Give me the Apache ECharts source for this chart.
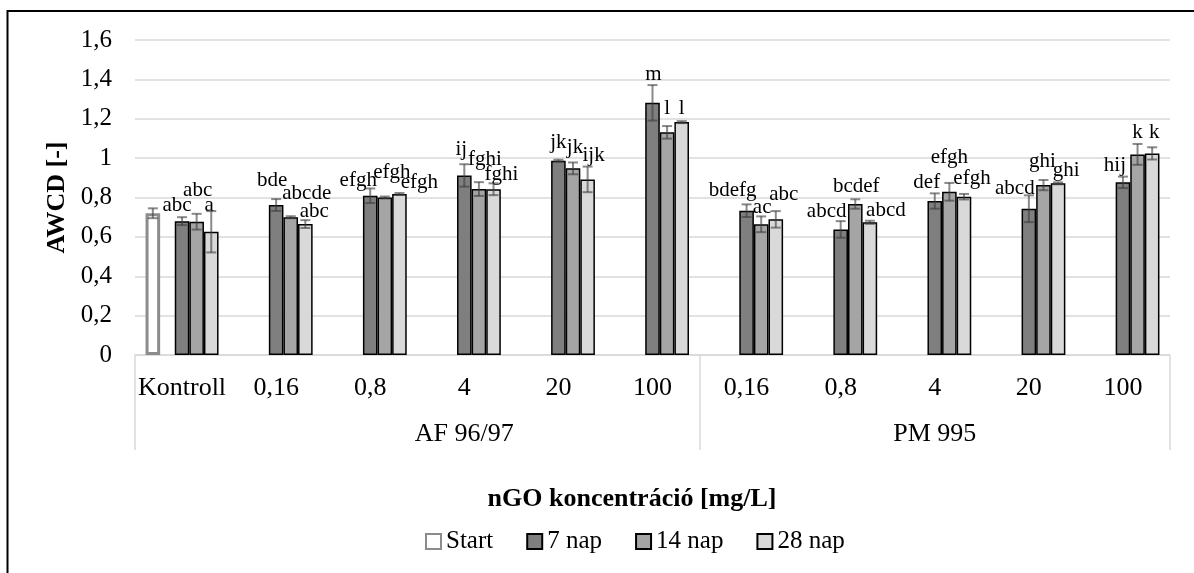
<!DOCTYPE html>
<html>
<head>
<meta charset="utf-8">
<script src="https://cdn.jsdelivr.net/npm/echarts@6/dist/echarts.min.js"></script>
<style>html,body{margin:0;padding:0;background:#fff}#c{width:1194px;height:573px}</style>
</head>
<body>
<div id="c"></div>
<script>
// ---- data ----
const categories = ['Kontroll', '0,16', '0,8', '4', '20', '100', '0,16', '0,8', '4', '20', '100'];
const groupNames = ['AF 96/97', 'PM 995'];
const groupStart = [1, 6];
const groupEnd = [6, 11];
const seriesNames = ['Start', '7 nap', '14 nap', '28 nap'];
const yTicks = [0, 0.2, 0.4, 0.6, 0.8, 1, 1.2, 1.4, 1.6];

const startVals = [0.72, null, null, null, null, null, null, null, null, null, null];
const startErr  = [0.025, null, null, null, null, null, null, null, null, null, null];

const vals7  = [0.680, 0.762, 0.809, 0.912, 0.987, 1.281, 0.733, 0.638, 0.782, 0.743, 0.877];
const err7   = [0.020, 0.030, 0.037, 0.057, 0.005, 0.090, 0.032, 0.042, 0.039, 0.068, 0.029];
const lett7  = ['abc', 'bde', 'efgh', 'ij', 'jk', 'm', 'bdefg', 'abcd', 'def', 'abcd', 'hij'];

const vals14 = [0.677, 0.700, 0.800, 0.843, 0.948, 1.131, 0.664, 0.767, 0.829, 0.863, 1.019];
const err14  = [0.040, 0.005, 0.005, 0.035, 0.030, 0.032, 0.040, 0.024, 0.045, 0.026, 0.053];
const lett14 = ['abc', 'abcde', 'efgh', 'fghi', 'jk', 'l', 'ac', 'bcdef', 'efgh', 'ghi', 'k'];

const vals28 = [0.626, 0.665, 0.818, 0.842, 0.892, 1.183, 0.689, 0.674, 0.804, 0.872, 1.024];
const err28  = [0.105, 0.020, 0.005, 0.030, 0.065, 0.005, 0.042, 0.008, 0.014, 0.005, 0.031];
const lett28 = ['a', 'abc', 'efgh', 'fghi', 'ijk', 'l', 'abc', 'abcd', 'efgh', 'ghi', 'k'];

// ---- label placement (style, pixels relative to bar top) ----
const off7  = [[-5,-16],[-4,-24],[-12,-15],[-3,-26],[0,-18],[1,-28],[-14,-20],[-14,-18],[-8,-19],[-14,-20],[-8,-17]];
const off14 = [[1,-31],[16,-24],[7,-25],[6,-30],[2,-21],[0,-24],[1,-17],[1,-18],[0,-34],[-1,-24],[0,-22]];
const off28 = [[-2,-26],[9,-13],[20,-11],[8,-15],[6,-24],[0,-14],[8,-25],[16,-12],[8,-18],[8,-13],[2,-21]];

// ---- styles ----
const FONT = "'Liberation Serif', 'Times New Roman', serif";
const BAR_W = 14.6;
const fills = ['#ffffff', '#7f7f7f', '#a5a5a5', '#d9d9d9'];

function items(vals, letters, offs) {
  return vals.map((v, i) => v == null ? null : {
    value: v,
    label: { show: !!letters[i], formatter: letters[i], offset: offs[i] }
  });
}

const labelStyle = {
  show: true, position: 'top', distance: 0, verticalAlign: 'middle',
  fontFamily: FONT, fontSize: 21, color: '#000'
};

function barSeries(name, data, fill, border, bw, z) {
  return {
    name: name, type: 'bar', data: data, barWidth: BAR_W, barGap: '0%',
    itemStyle: { color: fill, borderColor: border, borderWidth: bw },
    label: labelStyle, z: z, animation: false
  };
}

// error bar data: [categoryIndex, value, err, slot]
function errData(vals, errs, slot) {
  const out = [];
  vals.forEach((v, i) => { if (v != null && errs[i] != null) out.push([i, v, errs[i], slot]); });
  return out;
}
const errAll = [].concat(errData(startVals, startErr, 0), errData(vals7, err7, 2),
  errData(vals14, err14, 3), errData(vals28, err28, 4));

const chart = echarts.init(document.getElementById('c'), null, { renderer: 'canvas' });
chart.setOption({
  backgroundColor: '#fff',
  animation: false,
  textStyle: { fontFamily: FONT },
  grid: { left: 135, right: 24, top: 40, bottom: 218, containLabel: false },
  legend: {
    data: seriesNames, left: 420, top: 524, itemWidth: 15, itemHeight: 15, itemGap: 33,
    icon: 'rect', textStyle: { fontFamily: FONT, fontSize: 25, color: '#000' }
  },
  xAxis: [
    {
      type: 'category', data: categories,
      axisTick: { show: false },
      axisLine: { lineStyle: { color: '#d9d9d9', width: 1.5 } },
      axisLabel: { interval: 0, fontFamily: FONT, fontSize: 26, color: '#000', margin: 20 }
    },
    {
      type: 'value', min: 0, max: categories.length, position: 'bottom',
      axisLine: { show: false }, splitLine: { show: false },
      axisTick: {
        show: true, customValues: [0].concat(groupEnd), length: 95,
        lineStyle: { color: '#d9d9d9', width: 1.5 }
      },
      axisLabel: {
        customValues: groupStart.map((s, k) => (s + groupEnd[k]) / 2),
        formatter: function (v) {
          for (let k = 0; k < groupNames.length; k++) {
            if (Math.abs(v - (groupStart[k] + groupEnd[k]) / 2) < 1e-6) return groupNames[k];
          }
          return '';
        },
        fontFamily: FONT, fontSize: 26, color: '#000', margin: 66
      }
    }
  ],
  yAxis: {
    type: 'value', min: yTicks[0], max: yTicks[yTicks.length - 1], interval: 0.2,
    name: 'AWCD [-]', nameLocation: 'middle', nameRotate: 90, nameGap: 60,
    nameTextStyle: { fontFamily: FONT, fontSize: 26, fontWeight: 'bold', color: '#000' },
    axisLine: { show: false }, axisTick: { show: false },
    axisLabel: {
      fontFamily: FONT, fontSize: 25, color: '#000', margin: 23,
      formatter: v => String(+v.toFixed(1)).replace('.', ',')
    },
    splitLine: { lineStyle: { color: '#d9d9d9', width: 1.5 } }
  },
  graphic: [
    { type: 'rect', shape: { x: 7.5, y: 11, width: 1300, height: 700 },
      style: { fill: 'none', stroke: '#000', lineWidth: 2 }, silent: true, z: 100 },
    { type: 'text', x: 632, y: 499,
      style: { text: 'nGO koncentráció [mg/L]', font: "bold 26px " + FONT, fill: '#000',
               textAlign: 'center', textVerticalAlign: 'middle' }, z: 100 }
  ],
  series: [
    barSeries('Start', startVals.map(v => v == null ? null : { value: v, label: { show: false } }),
      fills[0], '#8c8c8c', 3, 2),
    { name: '_gap', type: 'bar', data: categories.map(() => null), barWidth: BAR_W, barGap: '0%' },
    barSeries('7 nap', items(vals7, lett7, off7), fills[1], '#000', 1.5, 2),
    barSeries('14 nap', items(vals14, lett14, off14), fills[2], '#000', 1.5, 2),
    barSeries('28 nap', items(vals28, lett28, off28), fills[3], '#000', 1.5, 2),
    {
      type: 'custom', name: 'err', data: errAll, z: 5, silent: true,
      encode: { x: 0, y: 1 },
      renderItem: function (params, api) {
        const i = api.value(0), v = api.value(1), e = api.value(2), slot = api.value(3);
        const top = api.coord([i, v + e]);
        const bot = api.coord([i, v - e]);
        const x = top[0] + (slot - 2) * BAR_W;
        const cap = 5;
        const st = { stroke: 'rgba(60,60,60,0.6)', lineWidth: 2 };
        return {
          type: 'group', children: [
            { type: 'line', shape: { x1: x, y1: top[1], x2: x, y2: bot[1] }, style: st },
            { type: 'line', shape: { x1: x - cap, y1: top[1], x2: x + cap, y2: top[1] }, style: st },
            { type: 'line', shape: { x1: x - cap, y1: bot[1], x2: x + cap, y2: bot[1] }, style: st }
          ]
        };
      }
    }
  ]
});
</script>
</body>
</html>
